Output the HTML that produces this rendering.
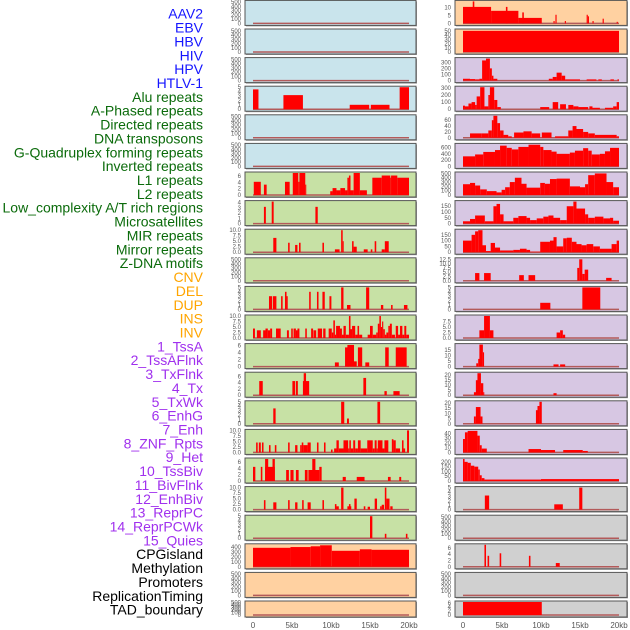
<!DOCTYPE html>
<html><head><meta charset="utf-8"><style>
html,body{margin:0;padding:0;background:#fff;width:630px;height:630px;overflow:hidden}
svg{display:block;font-family:"Liberation Sans",sans-serif}
</style></head><body>
<svg id="chart" width="630" height="630" viewBox="0 0 630 630" xmlns="http://www.w3.org/2000/svg">
<g id="labels"></g>
<g id="panels"></g>
<g id="xaxes"></g>
</svg>
<script>
// ---- data ----
const trackNames = ["AAV2","EBV","HBV","HIV","HPV","HTLV-1","Alu repeats","A-Phased repeats","Directed repeats","DNA transposons","G-Quadruplex forming repeats","Inverted repeats","L1 repeats","L2 repeats","Low_complexity A/T rich regions","Microsatellites","MIR repeats","Mirror repeats","Z-DNA motifs","CNV","DEL","DUP","INS","INV","1_TssA","2_TssAFlnk","3_TxFlnk","4_Tx","5_TxWk","6_EnhG","7_Enh","8_ZNF_Rpts","9_Het","10_TssBiv","11_BivFlnk","12_EnhBiv","13_ReprPC","14_ReprPCWk","15_Quies","CPGisland","Methylation","Promoters","ReplicationTiming","TAD_boundary"];
const trackGroups = [0,0,0,0,0,0,1,1,1,1,1,1,1,1,1,1,1,1,1,2,2,2,2,2,3,3,3,3,3,3,3,3,3,3,3,3,3,3,3,4,4,4,4,4];
const xTickValues = [0,5,10,15,20];
const xTickLabels = ["0","5kb","10kb","15kb","20kb"];
const T500 = ["0","100","200","300","400","500"];
const T5 = ["0","1","2","3","4","5"];
const T6 = ["0","2","4","6"];
const T10 = ["0.0","2.5","5.0","7.5","10.0"];
const leftTicks = [T500,T500,T500,T5,T500,T500,T6,["0","1","2","3","4"],T10,T500,T5,T10,T6,T6,T5,T10,T6,T10,T5,["0","100","200","300","400"],T500,T500];
const leftMax = [520,520,520,5,520,520,7,4.2,10,520,5,10,6.3,7,5,10,7,10,5,440,520,520];
const leftBg = [0,0,0,0,0,0,1,1,1,1,1,1,1,1,1,1,1,1,1,2,2,2];
const rightTicks = [["0","5","10"],["0","10","20","30","40","50"],["0","100","200","300"],["0","100","200","300"],["0","20","40","60"],["0","200","400","600"],T500,["0","50","100","150"],["0","50","100","150"],["0.0","2.5","5.0","7.5","10.0","12.5"],T5,["0.0","2.5","5.0","7.5"],["0","5","10","15"],["0","5","10","15","20"],["0","5","10","15","20"],["0","10","20","30","40"],["0","50","100","150","200"],T5,T500,T6,T500,T6];
const rightMax = [14,52,360,310,75,700,510,190,190,12.8,5,10,20,22,21,46,230,5,520,7,520,6.5];
const rightBg = [2,2,3,3,3,3,3,3,3,3,3,3,3,3,3,3,3,4,4,4,4,4];

const leftSegs = [
 [],[],[],
 [[0,0.7,4.5],[3.9,6.4,3.2],[12.4,14.9,1],[15.1,17.5,1],[18.8,20,5]],
 [],[],
 [[0.1,1.0,4.2],[1.4,1.75,3.3],[4.1,4.7,4.2],[5.1,5.8,7],[5.8,5.95,4.2],[5.95,6.7,7],[6.7,6.8,3.3],[9.9,10.2,1.2],[10.2,10.7,2.2],[10.7,11.2,1.5],[11.2,11.8,2.2],[11.8,12.1,1.5],[12.1,12.3,5.5],[12.3,12.5,6.2],[12.5,12.9,1.5],[12.9,13.7,7],[13.7,14.6,1.5],[15.3,16.5,5.5],[16.5,17.6,6.2],[17.6,17.7,5.5],[17.7,18.5,6.2],[18.5,20,5.5]],
 [[1.4,1.65,3.2],[2.4,2.65,4.2],[8.0,8.3,3.2]],
 [[2.6,3.0,6.5],[4.5,4.7,4.3],[5.4,5.7,3.3],[5.9,6.1,4.3],[8.9,9.1,4.3],[10.5,11.1,1.3],[11.3,11.5,10],[11.5,11.6,5],[12.7,12.9,5],[12.9,13.3,2.5],[14.2,14.7,1.3],[15.1,15.3,1.3],[15.6,15.8,5],[16.5,16.9,1.3],[16.9,17.4,5]],
 [],
 [[2.05,2.45,3],[2.55,3.0,3],[3.6,3.8,3],[4.1,4.3,4],[4.3,4.45,3],[7.2,7.4,4],[8.2,8.4,4],[8.9,9.2,4],[9.8,10.05,3],[11.3,11.6,5],[12.05,12.5,1],[14.5,14.9,5],[16.4,16.7,1],[17.7,17.9,1],[19.35,19.8,1]],
 [[0,0.25,4.3],[0.5,1.0,3.5],[1.3,1.6,3.5],[1.6,1.9,4.3],[1.9,2.2,3.5],[2.2,2.45,4.3],[2.95,3.55,4.3],[4.35,4.6,3.5],[4.9,5.1,4.3],[5.2,5.5,4.3],[5.5,5.7,3.5],[5.7,5.95,4.3],[6.7,6.9,4.3],[7.45,7.7,4.3],[7.75,8.1,3.5],[8.3,8.85,4.3],[9.0,9.3,4.3],[9.7,10.1,4.3],[10.1,10.3,2.5],[10.3,10.5,8],[10.5,10.65,1.5],[10.65,11.15,5.5],[11.15,11.4,4.3],[11.4,11.6,1.5],[11.6,11.9,5.5],[11.9,12.3,1.5],[12.3,12.5,10],[12.5,12.7,4],[12.7,13.1,5.5],[13.1,13.4,1.5],[13.4,13.6,5.5],[13.6,14.0,1.5],[14.7,15.0,1.5],[15.0,15.35,5.5],[15.35,15.8,1.5],[15.8,16.0,2.5],[16.0,16.2,6.5],[16.2,16.4,10],[16.4,16.55,5],[16.55,16.7,7.5],[16.7,16.9,4],[16.9,17.1,1.5],[17.1,17.35,2.5],[17.35,17.55,5.5],[17.55,17.8,6.5],[17.8,18.2,1.5],[18.3,18.6,5.5],[18.6,18.85,1.5],[18.85,19.15,5.5],[19.15,19.4,1.5],[19.4,19.65,5.5],[19.65,20,1.5]],
 [[10.5,11.0,1.2],[11.8,12.3,5.5],[12.1,12.95,6.2],[12.95,13.3,1.5],[13.45,14.0,5.5],[14.4,14.9,1.2],[16.95,17.4,5.5],[18.3,19.7,5.5]],
 [[0.8,1.25,4.5],[5.05,5.4,4.5],[5.5,5.75,4.5],[6.4,7.2,4.5],[6.5,6.8,7],[14.15,14.5,5.5],[16.85,17.15,1.3],[18.0,18.8,1.3]],
 [[2.6,2.9,3.5],[11.3,11.7,5],[12.05,12.3,1.2],[15.95,16.3,5]],
 [[0.4,0.6,4.5],[0.75,1.0,4.5],[1.15,1.35,4.5],[2.05,2.25,3.3],[2.8,3.0,3.3],[4.5,4.7,4.5],[5.4,5.7,3.3],[6.05,6.25,3.3],[6.25,6.45,4.5],[6.45,7.0,3.3],[7.0,7.4,4.5],[8.2,8.4,4.5],[9.1,9.3,4.5],[10.0,10.2,1.3],[10.4,10.7,1.8],[10.7,11.0,5.5],[11.0,11.6,1.8],[11.6,12.2,5.5],[12.2,12.35,1.8],[12.35,12.55,5.5],[12.55,12.85,1.8],[12.85,13.1,5.5],[13.1,13.45,1.8],[13.45,13.8,5.5],[13.8,14.65,1.8],[14.65,15.35,5.5],[15.35,15.6,1.8],[15.6,15.85,5.5],[15.85,16.0,1.8],[16.0,16.6,5.5],[16.6,16.85,1.8],[16.85,17.35,5.5],[17.8,18.0,6],[18.0,18.3,5.5],[18.3,18.85,1.8],[19.1,19.3,5.5],[19.3,19.5,1.8],[19.75,20,10]],
 [[0,0.3,4.5],[1.0,1.2,4.5],[1.55,2.8,4.5],[1.55,1.95,7],[2.5,2.8,7],[4.25,4.6,3.5],[4.8,5.2,3.5],[5.5,5.85,3.5],[6.65,7.0,3.5],[7.1,8.5,3.5],[7.6,8.0,7],[8.5,8.8,4.5],[11.5,11.9,1.3],[13.3,14.3,1.3],[17.3,17.65,1.3],[18.75,19.0,1.3]],
 [[1.4,1.6,4.3],[2.6,3.0,3.3],[4.5,4.7,4.3],[5.4,5.7,3.3],[6.3,6.5,4.3],[7.0,7.4,3.3],[8.9,9.1,4.3],[10.5,10.7,2.5],[10.7,11.0,1.5],[11.3,11.6,10],[12.1,12.6,1.5],[12.3,12.5,2.5],[13.0,13.3,5],[14.2,14.4,1.5],[14.7,15.0,1.3],[15.6,15.9,5],[16.3,16.5,1.5],[16.5,16.8,2.2],[16.9,17.1,10],[17.1,17.5,5],[17.6,17.9,1.5]],
 [[15.0,15.3,5],[16.9,17.1,1],[19.6,19.8,1]],
 [[0,4.8,380],[4.8,7.4,395],[7.4,8.6,410],[8.6,10.1,430],[10.1,13.7,320],[13.7,15.2,350],[15.2,20,340]],
 [],[]
];
const rightSegs = [
 [[0,3.6,10.5],[1.25,1.45,14],[3.6,7.1,8],[5.5,5.7,10.5],[7.1,10.1,3.5],[7.6,7.8,7],[11.6,11.75,1.5],[11.85,12.0,5.5],[13.05,13.2,1.5],[15.85,16.0,5.5],[16.0,16.15,4.5],[16.6,16.75,1.5],[17.9,18.05,3],[19.7,19.85,1]],
 [[0,20,50]],
 [[0,0.9,30],[0.9,1.55,25],[1.55,2.1,20],[2.1,2.45,30],[2.45,2.95,330],[2.95,3.45,360],[3.45,3.7,200],[3.7,3.9,80],[3.9,4.4,30],[11.0,11.5,30],[11.5,12.0,60],[12.0,12.65,130],[12.65,13.1,80],[13.1,15.0,20],[15.85,17.1,20],[17.35,17.8,20],[18.9,19.35,20],[19.8,20,20]],
 [[0,0.25,50],[0.25,0.7,40],[0.7,1.1,80],[1.1,1.55,100],[1.55,1.75,60],[1.75,2.2,180],[2.2,2.75,310],[2.75,3.25,40],[3.25,3.45,200],[3.45,4.0,310],[4.0,4.4,130],[4.4,4.85,30],[9.9,11.05,30],[11.5,12.2,100],[12.45,13.2,70],[13.5,14.15,60],[14.15,14.8,40],[14.8,16.05,30],[16.2,16.6,40],[16.6,17.55,20],[18.2,19.25,20],[19.25,19.7,40],[19.7,20,100]],
 [[0.9,2.4,15],[2.4,3.25,15],[3.25,3.7,25],[3.7,3.9,60],[3.9,4.4,75],[4.4,4.75,50],[4.75,5.2,25],[5.2,5.8,10],[5.8,6.25,5],[6.55,7.75,18],[7.75,8.8,22],[8.8,9.9,15],[10.1,11.35,18],[11.8,13.5,5],[13.5,14.05,25],[14.05,14.55,40],[14.55,15.4,30],[15.4,16.05,20],[16.05,16.9,15],[16.9,19.7,10],[19.7,20,5]],
 [[0,1.55,320],[1.55,2.6,380],[2.6,4.1,460],[4.1,4.75,520],[4.75,5.6,660],[5.6,6.25,590],[6.25,7.1,540],[7.1,8.4,620],[8.4,9.9,690],[9.9,10.3,620],[10.3,11.35,520],[11.35,12.0,470],[12.0,13.7,400],[13.7,14.35,440],[14.35,15.4,500],[15.4,16.05,580],[16.05,16.5,500],[16.5,17.55,380],[17.55,18.2,400],[18.2,18.85,480],[18.85,20,590]],
 [[0,0.9,250],[0.9,1.55,280],[1.55,2.2,220],[2.2,3.05,130],[3.05,4.3,90],[4.3,4.95,60],[4.95,5.4,120],[5.4,6.0,180],[6.0,6.65,300],[6.65,7.5,400],[7.5,8.15,260],[8.15,9.9,170],[9.9,10.5,280],[10.5,11.15,260],[11.15,12.0,370],[12.0,13.7,380],[13.7,15.0,200],[15.0,15.65,180],[15.65,16.05,250],[16.05,16.9,460],[16.9,18.4,500],[18.4,19.25,300],[19.25,20,180]],
 [[0,0.9,20],[0.9,1.55,40],[1.55,2.8,70],[2.8,3.9,20],[3.9,4.3,150],[4.3,4.75,170],[4.75,5.2,80],[5.2,6.45,20],[6.45,7.1,50],[7.1,8.15,65],[8.15,8.6,50],[8.6,9.45,30],[9.45,10.3,45],[10.3,10.95,60],[10.95,11.6,70],[11.6,12.45,50],[12.45,13.3,30],[13.3,14.15,150],[14.15,14.55,190],[14.55,15.65,130],[15.65,16.05,80],[16.05,16.9,50],[16.9,18.0,60],[18.0,18.85,45],[18.85,19.25,50],[19.25,20,25]],
 [[0,1.1,100],[1.1,1.55,150],[1.55,1.95,180],[1.95,2.5,190],[2.5,2.95,60],[2.95,3.55,10],[3.55,4.1,80],[4.1,4.75,40],[4.75,6.45,15],[6.45,7.3,20],[7.3,8.15,30],[8.15,8.6,20],[8.6,9.9,5],[9.9,11.15,90],[11.15,11.6,100],[11.6,12.0,130],[12.0,12.85,50],[12.85,13.3,120],[13.3,13.95,125],[13.95,14.55,90],[14.55,15.2,70],[15.2,15.85,60],[15.85,16.7,70],[16.7,17.55,50],[17.55,19.05,30],[19.05,19.7,70],[19.7,20,100]],
 [[1.55,2.1,4.5],[2.7,3.55,4.5],[7.2,7.8,3.3],[8.4,9.25,3.3],[14.65,14.9,7.5],[14.9,15.3,12.5],[15.3,15.6,4],[15.6,16.05,6.5],[18.35,19.05,1.7]],
 [[9.9,11.2,1.5],[15.3,17.6,5]],
 [[2.1,2.7,3.5],[2.7,3.45,10],[3.45,3.9,3.5],[12.0,12.45,2.5],[12.45,12.8,3.5],[12.8,13.1,1.5]],
 [[1.7,1.95,3],[1.95,2.15,7],[2.1,2.55,20],[2.55,2.7,13],[11.6,12.25,2],[12.45,13.1,2]],
 [[1.4,1.7,3],[1.65,1.9,15],[1.85,2.3,22],[2.3,2.6,12],[2.6,2.7,3],[11.6,12.0,2]],
 [[1.4,1.65,7],[1.65,2.25,16],[2.25,2.5,7],[9.35,9.55,13],[9.55,9.8,17],[9.8,10.1,21]],
 [[0,0.25,28],[0.25,0.6,42],[0.6,1.85,45],[1.85,2.15,35],[2.15,2.4,15],[2.4,3.05,8],[8.4,10.0,7],[10.0,11.8,5],[12.85,15.35,5],[15.35,16.0,3]],
 [[0,0.2,230],[0.2,0.6,200],[0.6,1.0,190],[1.0,1.45,160],[1.45,1.95,150],[1.95,2.15,120],[2.15,2.4,60],[2.4,2.75,30],[2.75,10.0,15],[10.0,20,20]],
 [[2.8,3.35,3.2],[11.7,12.8,1.2],[14.9,15.3,5]],
 [],
 [[2.75,2.95,7],[3.15,3.35,3.5],[4.7,4.9,4.3],[8.45,8.65,3.5],[11.9,12.4,1.2]],
 [],
 [[0,10.1,6.5]]
];

// ---- layout ----
const NS = "http://www.w3.org/2000/svg";
const bgColors = ["#c9e4ec","#c7e1a5","#ffd1a1","#d7c7e3","#d0d0d0"];
const labelColors = ["#1515ff","#0b6b0b","#ffa500","#a030ee","#000000"];
const rowTop = i => 0.4 + i * 28.6;
const rowH = i => (i === 21 ? 16 : 25);
const sides = [{x0:245,w:171,ox:253},{x0:455,w:172,ox:463}];
const xScale = (s, kb) => sides[s].ox + kb * 7.8;
function mk(tag, attrs, parent){const e=document.createElementNS(NS,tag);for(const k in attrs)e.setAttribute(k,attrs[k]);parent.appendChild(e);return e;}

const gl = document.getElementById("labels");
trackNames.forEach((n,i)=>{
  const t = mk("text",{x:203,y:15+i*13.86,"text-anchor":"end","dominant-baseline":"middle","font-size":"14",fill:labelColors[trackGroups[i]]},gl);
  
  
  t.textContent = n;
});

const gp = document.getElementById("panels");
function drawPanel(s, i, segs, ticks, ymax, bg){
  const x0 = sides[s].x0, w = sides[s].w, top = rowTop(i), PH = rowH(i);
  const g = mk("g",{},gp);
  
  
  const bot = top + PH - 2;
  const ph = PH - 3;
  const yS = v => bot - v / ymax * ph;
  mk("rect",{x:x0+1,y:top+1,width:w,height:PH,fill:"#999"},g);
  mk("rect",{x:x0,y:top,width:w,height:PH,fill:bgColors[bg],stroke:"#555","stroke-width":1},g);
  mk("line",{x1:xScale(s,0),x2:xScale(s,20),y1:bot,y2:bot,stroke:"#b35a5a","stroke-width":1.5},g);
  segs.forEach(sg=>{
    const r = mk("rect",{x:xScale(s,sg[0]),y:yS(sg[2]),width:Math.max(1,xScale(s,sg[1])-xScale(s,sg[0])),height:bot-yS(sg[2]),fill:"#ff0000"},g);
    
    
  });
  ticks.forEach(tl=>{
    const t = mk("text",{x:x0-4,y:yS(parseFloat(tl))+2,"text-anchor":"end","font-size":"6",fill:"#555"},g);
    
    
    t.textContent = tl;
  });
}
for(let i=0;i<22;i++){
  drawPanel(0,i,leftSegs[i],leftTicks[i],leftMax[i],leftBg[i]);
  drawPanel(1,i,rightSegs[i],rightTicks[i],rightMax[i],rightBg[i]);
}
const gx = document.getElementById("xaxes");
[0,1].forEach(s=>{
  xTickValues.forEach((v,k)=>{
    const t = mk("text",{x:xScale(s,v),y:628,"text-anchor":"middle","font-size":"8",fill:"#555"},gx);
    
    
    t.textContent = xTickLabels[k];
  });
});
</script>
</body></html>
